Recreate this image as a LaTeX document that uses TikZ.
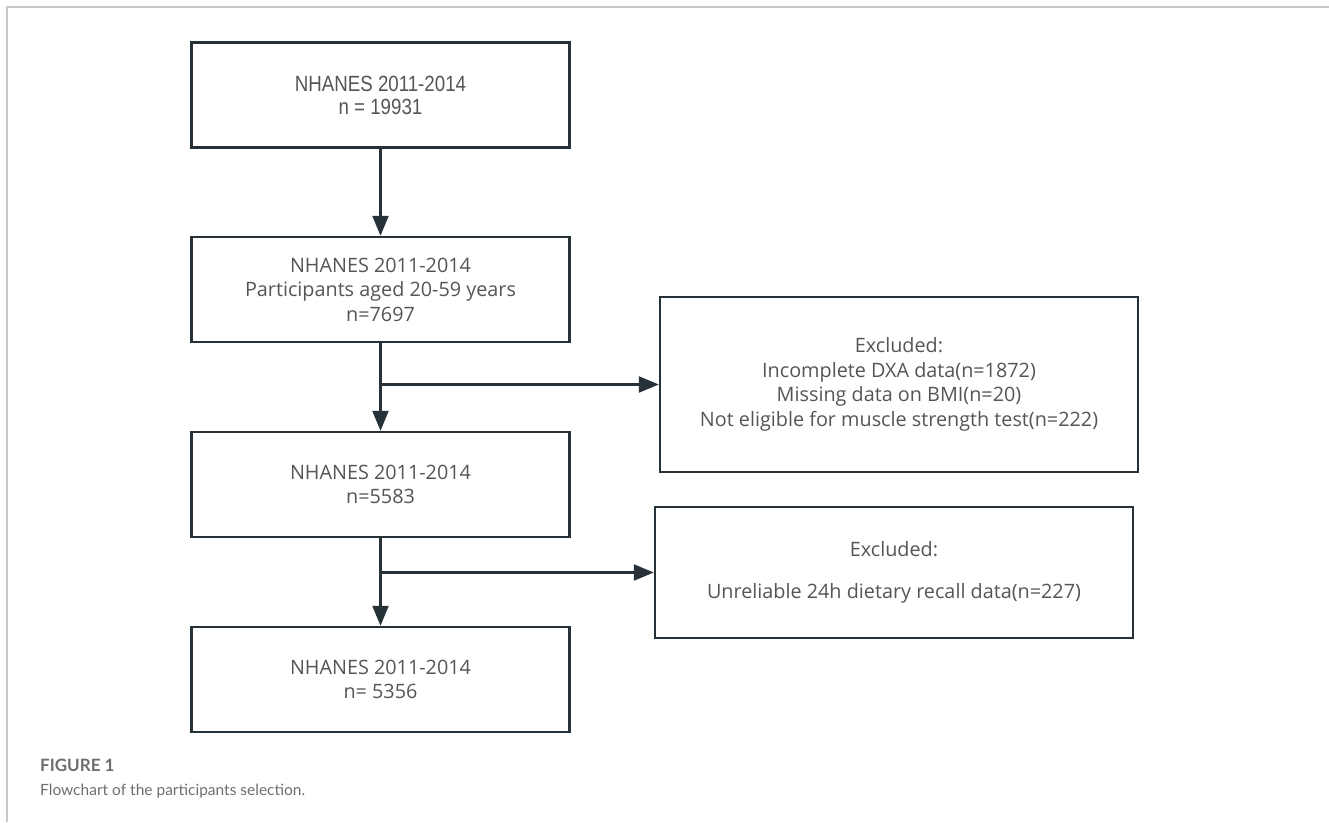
\documentclass[tikz,border=0pt]{standalone}
\usepackage{fontspec}
\setmainfont{Open Sans}
\newfontfamily\boxonefont[FakeStretch=0.85]{Liberation Sans}
\newfontfamily\capfont{Lato}
\usetikzlibrary{arrows.meta}
\definecolor{boxline}{HTML}{263238}
\definecolor{boxtext}{HTML}{555555}
\definecolor{capgray}{HTML}{6E6E6E}
\definecolor{rulegray}{HTML}{C8C8C8}

\begin{document}
\begin{tikzpicture}[x=1pt,y=-1pt,
  stagebox/.style={draw=boxline, line width=2.4pt, minimum width=378pt,
    minimum height=105pt, align=center, text=boxtext, inner sep=0pt,
    font=\fontsize{19.8}{24.5}\selectfont},
  exclbox/.style={stagebox, minimum width=478pt},
  flow/.style={draw=boxline, line width=2.2pt,
    -{Triangle[length=20pt,width=16pt]}},
  captext/.style={anchor=west, inner sep=0pt, text=capgray}]
\useasboundingbox (0,0) rectangle (1329,822);
% frame
\draw[rulegray, line width=1.5pt] (1329,7) -- (7,7) -- (7,822);

% main column
\node[stagebox, font=\boxonefont\fontsize{22}{23}\selectfont] (total) at (380.5,95) {NHANES 2011-2014\\n = 19931};
\node[stagebox] (aged) at (380.5,289.5) {NHANES 2011-2014\\Participants aged 20-59 years\\n=7697};
\node[stagebox] (dxa) at (380.5,484.5) {NHANES 2011-2014\\n=5583};
\node[stagebox] (final) at (380.5,679.5) {NHANES 2011-2014\\n= 5356};

% exclusions
\node[exclbox, minimum height=175pt] (excl1) at (899,384.5)
  {\raisebox{10pt}{\begin{tabular}{@{}c@{}}Excluded:\\Incomplete DXA data(n=1872)\\Missing data on BMI(n=20)\\Not eligible for muscle strength test(n=222)\end{tabular}}};
\node[exclbox, minimum height=131pt] (excl2) at (894,572.5)
  {\raisebox{18pt}{\begin{tabular}{@{}c@{}}Excluded:\\[18pt]Unreliable 24h dietary recall data(n=227)\end{tabular}}};

% arrows
\draw[flow] (total) -- (aged);
\draw[flow] (aged) -- (dxa);
\draw[flow] (dxa) -- (final);
\draw[flow] (aged.south |- excl1.west) -- (excl1.west);
\draw[flow] (dxa.south |- excl2.west) -- (excl2.west);

% caption
\node[captext, font=\capfont\bfseries\fontsize{17}{19}\selectfont] (figno) at (40,765) {FIGURE 1};
\node[captext, font=\capfont\fontsize{15.5}{18}\selectfont] (caption) at (40,791) {Flowchart of the participants selection.};
\end{tikzpicture}
\end{document}
